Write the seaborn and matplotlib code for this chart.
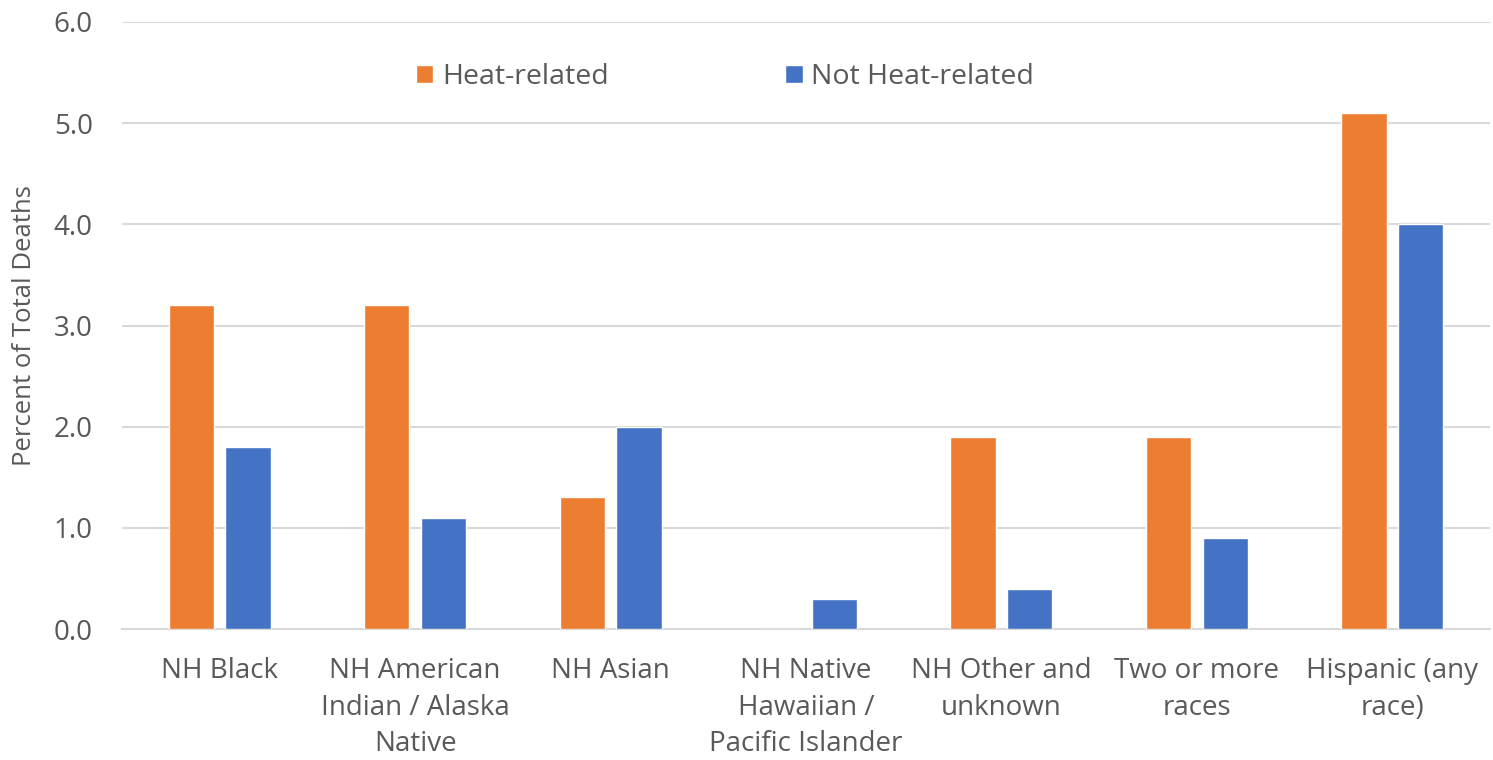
import matplotlib
matplotlib.use("Agg")
import matplotlib.pyplot as plt
import seaborn as sns
import pandas as pd

categories = [
    "NH Black",
    "NH American\nIndian / Alaska\nNative",
    "NH Asian",
    "NH Native\nHawaiian /\nPacific Islander",
    "NH Other and\nunknown",
    "Two or more\nraces",
    "Hispanic (any\nrace)",
]
heat_related = [3.2, 3.2, 1.3, 0.0, 1.9, 1.9, 5.1]
not_heat_related = [1.8, 1.1, 2.0, 0.3, 0.4, 0.9, 4.0]
series_names = ["Heat-related", "Not Heat-related"]
y_ticks = [0.0, 1.0, 2.0, 3.0, 4.0, 5.0, 6.0]

df = pd.DataFrame({
    "category": categories * 2,
    "series": [series_names[0]] * len(categories) + [series_names[1]] * len(categories),
    "value": heat_related + not_heat_related,
})

sns.set_theme(style="white")
plt.rcParams["font.family"] = ["Open Sans", "DejaVu Sans"]
text_color = "#595959"
grid_color = "#D9D9D9"

fig = plt.figure(figsize=(14.93, 7.6), dpi=100)
ax = fig.add_axes([122 / 1493, 1 - 629 / 760, (1490 - 122) / 1493, (629 - 22) / 760])

sns.barplot(
    data=df, x="category", y="value", hue="series",
    palette=["#ED7D31", "#4472C4"], width=0.58, gap=0.2,
    saturation=1, ax=ax, legend=True, zorder=3,
)

ax.set_ylim(0, 6.0)
ax.set_xlim(-0.5, len(categories) - 0.5)
ax.set_yticks(y_ticks)
ax.set_yticklabels([f"{v:.1f}" for v in y_ticks])
ax.yaxis.grid(True, color=grid_color, linewidth=1.5, zorder=0)
ax.set_axisbelow(True)
for side in ["top", "right", "left"]:
    ax.spines[side].set_visible(False)
ax.spines["bottom"].set_color(grid_color)
ax.spines["bottom"].set_linewidth(1.5)
ax.tick_params(axis="both", length=0, labelsize=20, colors=text_color)
ax.tick_params(axis="x", pad=20)
ax.tick_params(axis="y", pad=21)
for lbl in ax.get_xticklabels():
    lbl.set_linespacing(1.42)

ax.set_xlabel("")
ax.set_ylabel("Percent of Total Deaths", fontsize=18.5, color=text_color, labelpad=12)

handles, labels = ax.get_legend_handles_labels()
ax.legend(
    handles, labels, loc="center", bbox_to_anchor=(725 / 1493, 1 - 77 / 760),
    bbox_transform=fig.transFigure, ncol=2, frameon=False, fontsize=20.5,
    handlelength=0.62, handleheight=0.62, handletextpad=0.3, columnspacing=6.2,
    labelcolor=text_color,
)

fig.savefig("out.png", dpi=100)
